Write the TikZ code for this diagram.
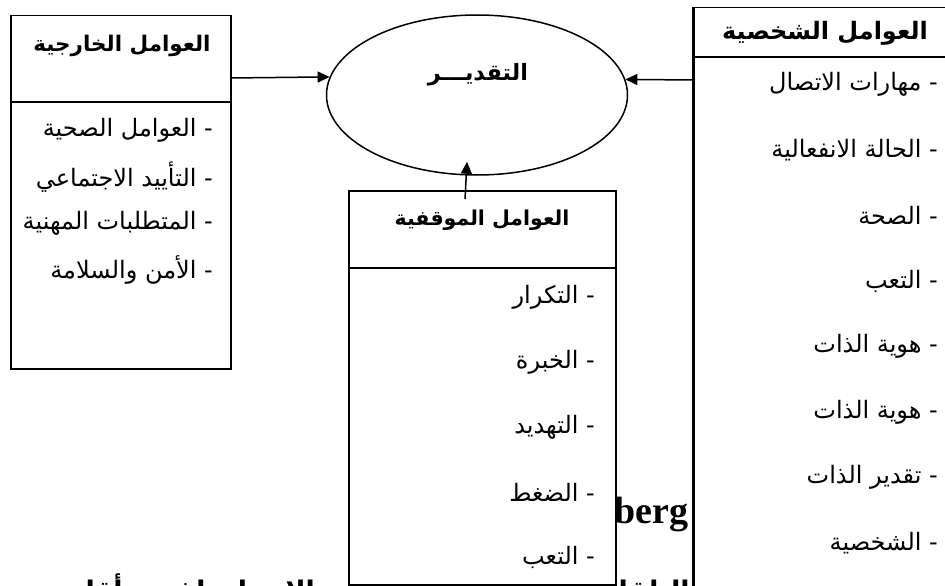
\documentclass[tikz,border=0pt]{standalone}
\usepackage{fontspec}
\setmainfont{Liberation Serif}
\usetikzlibrary{shapes.geometric,arrows.meta}
\TeXXeTstate=1
\newfontfamily\arabicfont[Script=Arabic]{DejaVu Sans}

\tikzset{
  box/.style={draw, line width=1.5pt, fill=white, inner sep=0pt, anchor=north west},
  rule/.style={line width=1.5pt},
  item/.style={anchor=east, inner sep=0pt, font=\arabicfont\fontsize{24}{28}\selectfont},
  head/.style={inner sep=0pt, font=\arabicfont\bfseries\fontsize{#1}{26}\selectfont},
  arr/.style={line width=1.5pt, -{Triangle[length=12pt,width=11pt]}},
}

\begin{document}
\begin{tikzpicture}[x=1pt,y=-1pt]
\useasboundingbox (0,0) rectangle (945,586);

% text of the page running behind the boxes
\node[anchor=base west, inner sep=0pt, font=\bfseries\fontsize{38}{42}\selectfont] (bgword) at (614,523) {berg};
\node[anchor=base east, inner sep=0pt, font=\arabicfont\bfseries\fontsize{27}{30}\selectfont] (bgline) at (690,600)
  {\beginR التلقائية للجهاز العصبي في الإنسان لفترة أقل\endR};

% external factors
\node[box, minimum width=220pt, minimum height=353pt] (ext) at (10,15) {};
\draw[rule] (10,102) -- (230,102);
\node[head=21.5] (exth) at (122,46) {\beginR العوامل الخارجية\endR};
\node[item] (ext1) at (213,130) {\beginR - العوامل الصحية\endR};
\node[item] (ext2) at (213,177) {\beginR - التأييد الاجتماعي\endR};
\node[item] (ext3) at (213,223) {\beginR - المتطلبات المهنية\endR};
\node[item] (ext4) at (213,270) {\beginR - الأمن والسلامة\endR};

% situational factors
\node[box, minimum width=267pt, minimum height=394pt] (sit) at (348,190) {};
\draw[rule] (348,268) -- (615,268);
\node[head=20.5] (sith) at (482,220) {\beginR العوامل الموقفية\endR};
\node[item] (sit1) at (595,297) {\beginR - التكرار\endR};
\node[item] (sit2) at (595,362) {\beginR - الخبرة\endR};
\node[item] (sit3) at (595,427) {\beginR - التهديد\endR};
\node[item] (sit4) at (595,492) {\beginR - الضغط\endR};
\node[item] (sit5) at (595,557) {\beginR - التعب\endR};

% personal factors
\node[box, minimum width=280pt, minimum height=600pt] (per) at (693,7) {};
\draw[line width=2.4pt] (per.north west) -- (per.south west);
\draw[rule] (693,57) -- (960,57);
\node[head=24] (perh) at (825,33) {\beginR العوامل الشخصية\endR};
\node[item] (per1) at (938,84) {\beginR - مهارات الاتصال\endR};
\node[item] (per2) at (938,150) {\beginR - الحالة الانفعالية\endR};
\node[item] (per3) at (938,215) {\beginR - الصحة\endR};
\node[item] (per4) at (938,281) {\beginR - التعب\endR};
\node[item] (per5) at (938,346) {\beginR - هوية الذات\endR};
\node[item] (per6) at (938,412) {\beginR - هوية الذات\endR};
\node[item] (per7) at (938,477) {\beginR - تقدير الذات\endR};
\node[item] (per8) at (938,543) {\beginR - الشخصية\endR};

% appraisal
\node[draw, ellipse, line width=1.5pt, minimum width=301pt, minimum height=160pt, inner sep=0pt] (appr) at (477,95) {};
\node[inner sep=0pt, font=\arabicfont\bfseries\fontsize{22.5}{26}\selectfont] (apprt) at (478,75) {\beginR التقديـــر\endR};

% connectors
\coordinate (extout) at (230,78);
\coordinate (perout) at (693,80);
\coordinate (sitout) at (465,199);
\draw[arr] (extout) -- (appr.173);
\draw[arr] (perout) -- (appr.6);
\draw[arr] (sitout) -- ([xshift=-10pt,yshift=14pt]appr.south);
\end{tikzpicture}
\end{document}
